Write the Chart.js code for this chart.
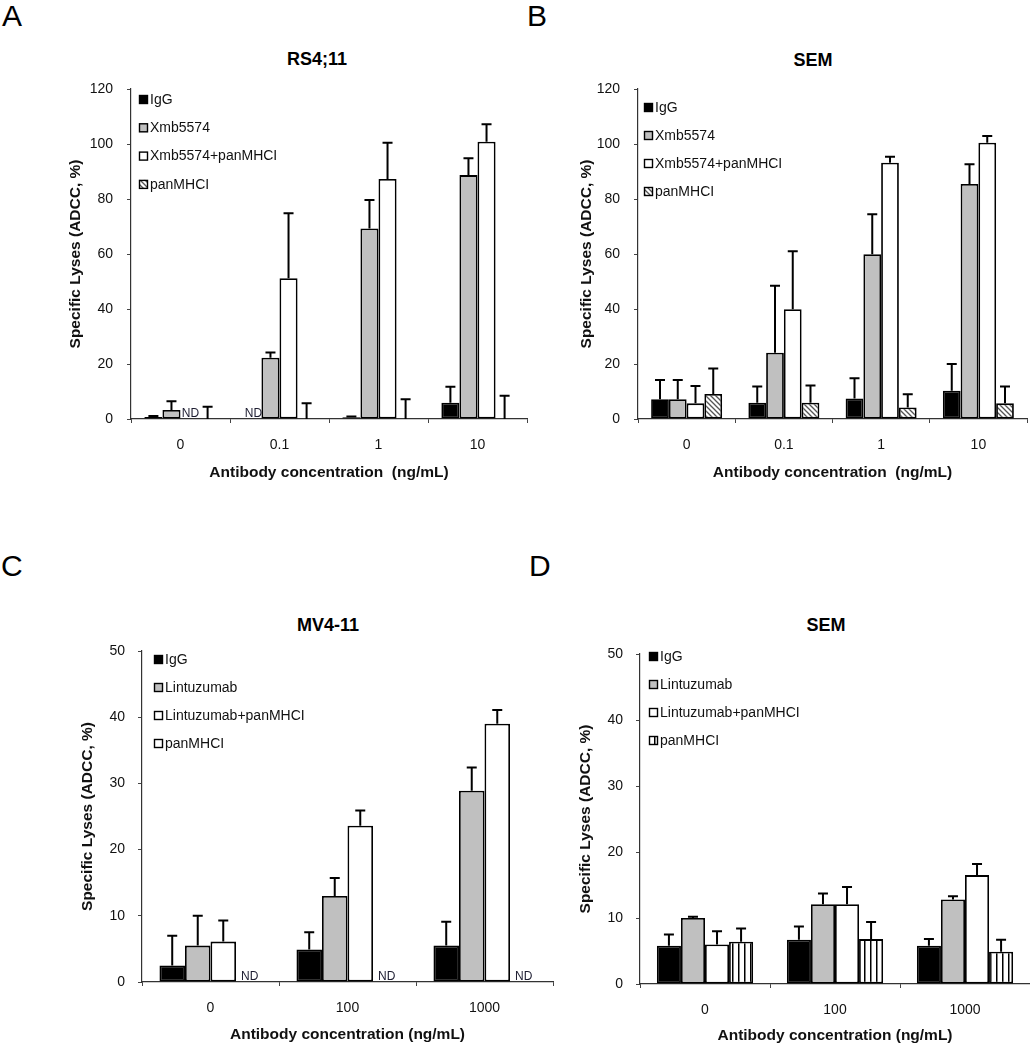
<!DOCTYPE html>
<html>
<head>
<meta charset="utf-8">
<script src="https://cdn.jsdelivr.net/npm/chart.js@4.4.1/dist/chart.umd.min.js"></script>
<style>
body{margin:0;background:#fff;width:1030px;height:1050px;position:relative;overflow:hidden;font-family:'Liberation Sans',Arial,sans-serif;color:#000;}
canvas{position:absolute;}
.lbl{position:absolute;font-size:30px;line-height:1;}
.ttl{position:absolute;font-size:18px;font-weight:bold;line-height:1;transform:translate(-50%,-50%);white-space:nowrap;}
</style>
</head>
<body>
<div class="lbl" style="left:2px;top:1px">A</div>
<div class="lbl" style="left:527px;top:1px">B</div>
<div class="lbl" style="left:1px;top:551px">C</div>
<div class="lbl" style="left:529px;top:551px">D</div>
<div class="ttl" style="left:317px;top:59px">RS4;11</div>
<div class="ttl" style="left:813px;top:60px">SEM</div>
<div class="ttl" style="left:328px;top:625px">MV4-11</div>
<div class="ttl" style="left:826px;top:625px">SEM</div>

<canvas id="chartA" width="530" height="500" style="left:0;top:0"></canvas>
<canvas id="chartB" width="510" height="500" style="left:520px;top:0"></canvas>
<canvas id="chartC" width="560" height="530" style="left:0;top:520px"></canvas>
<canvas id="chartD" width="490" height="530" style="left:540px;top:520px"></canvas>

<script>
// ─── Data (null = ND) ───
const labelsAB = ['IgG','Xmb5574','Xmb5574+panMHCI','panMHCI'];
const labelsCD = ['IgG','Lintuzumab','Lintuzumab+panMHCI','panMHCI'];

// A: RS4;11
const dosesA      = ['0','0.1','1','10'];
const rsIgG       = [0.7, null, 0.6, 5.9];
const rsIgGErr    = [0.4, 0,    0.3, 5.8];
const rsXmb       = [3.3, 22.3, 69.3, 88.7];
const rsXmbErr    = [3.2, 1.9,  10.3, 6.1];
const rsCombo     = [null, 51.2, 87.3, 100.8];
const rsComboErr  = [0,    23.6, 13.2, 6.4];
const rsPan       = [0,   0,   0,   0];
const rsPanErr    = [4.5, 5.7, 7.2, 8.5];

// B: SEM (Xmb5574)
const dosesB      = ['0','0.1','1','10'];
const semIgG      = [7.2, 5.9, 7.5, 10.3];
const semIgGErr   = [7.0, 5.9, 7.3, 9.7];
const semXmb      = [7.2, 24.1, 59.9, 85.5];
const semXmbErr   = [7.0, 24.4, 14.6, 7.1];
const semCombo    = [5.7, 39.9, 93.2, 100.5];
const semComboErr = [6.3, 21.1, 2.2, 2.4];
const semPan      = [9.1, 5.9, 4.2, 5.7];
const semPanErr   = [9.3, 6.3, 4.8, 6.1];

// C: MV4-11
const dosesC      = ['0','100','1000'];
const mvIgG       = [2.5, 4.9, 5.5];
const mvIgGErr    = [4.5, 2.6, 3.6];
const mvLin       = [5.5, 13.0, 28.9];
const mvLinErr    = [4.5, 2.7, 3.5];
const mvCombo     = [6.1, 23.6, 39.0];
const mvComboErr  = [3.2, 2.3, 2.1];
const mvPan       = [null, null, null];
const mvPanErr    = [0, 0, 0];

// D: SEM (Lintuzumab)
const dosesD      = ['0','100','1000'];
const sem2IgG     = [5.8, 6.7, 5.8];
const sem2IgGErr  = [1.7, 2.0, 1.0];
const sem2Lin     = [10.0, 12.1, 12.8];
const sem2LinErr  = [0.2, 1.6, 0.5];
const sem2Combo   = [6.0, 12.1, 16.5];
const sem2ComboErr= [2.0, 2.6, 1.7];
const sem2Pan     = [6.4, 6.8, 4.9];
const sem2PanErr  = [2.0, 2.6, 1.8];

// ─── Fills ───
const GRAY = '#c0c0c0';
function diagPattern(){
    const c=document.createElement('canvas'); c.width=c.height=5;
    const g=c.getContext('2d');
    g.fillStyle='#fff'; g.fillRect(0,0,5,5);
    g.strokeStyle='#555'; g.lineWidth=1.3;
    g.beginPath();
    g.moveTo(-1,-1); g.lineTo(6,6);
    g.moveTo(-1,4);  g.lineTo(1,6);
    g.moveTo(4,-1);  g.lineTo(6,1);
    g.stroke();
    return g.createPattern(c,'repeat');
}
function stripePattern(){
    const c=document.createElement('canvas'); c.width=6; c.height=4;
    const g=c.getContext('2d');
    g.fillStyle='#fff'; g.fillRect(0,0,6,4);
    g.fillStyle='#000'; g.fillRect(0,0,1.5,4);
    return g.createPattern(c,'repeat');
}

// ─── Plugins ───
const FONT = "'Liberation Sans', Arial, sans-serif";
Chart.defaults.font.family = FONT;
Chart.defaults.color = '#111';

const errorBars = {
    id:'errorBars',
    afterDatasetsDraw(chart){
        const {ctx} = chart, ys = chart.scales.y, xs = chart.scales.x;
        const n = chart.data.datasets.length;
        ctx.save();
        chart.data.datasets.forEach((ds,i)=>{
            const meta = chart.getDatasetMeta(i);
            ds.data.forEach((v,j)=>{
                const bar = meta.data[j];
                const catW = xs.width / chart.data.labels.length * ds.categoryPercentage;
                let cx = bar && isFinite(bar.x) ? bar.x : xs.getPixelForValue(j) + catW*((i+0.5)/n-0.5);
                if(v == null){
                    ctx.fillStyle='#1c1c30';
                    ctx.font='12px '+FONT;
                    ctx.textAlign='center'; ctx.textBaseline='bottom';
                    ctx.fillText('ND', cx+1, ys.getPixelForValue(0)+1);
                    return;
                }
                const e = ds.err[j];
                if(!e) return;
                const y0 = ys.getPixelForValue(v), y1 = ys.getPixelForValue(v+e);
                ctx.strokeStyle='#000'; ctx.lineWidth=2;
                ctx.beginPath();
                ctx.moveTo(cx,y0); ctx.lineTo(cx,y1);
                ctx.moveTo(cx-5,y1); ctx.lineTo(cx+5,y1);
                ctx.stroke();
            });
        });
        ctx.restore();
    }
};

const boxLegend = {
    id:'boxLegend',
    afterDraw(chart,args,o){
        const {ctx, chartArea:a} = chart;
        ctx.save();
        ctx.font='14px '+FONT; ctx.textBaseline='middle'; ctx.textAlign='left';
        chart.data.datasets.forEach((ds,i)=>{
            const x = a.left+o.dx, y = a.top+o.dy+i*o.gap;
            ctx.fillStyle = ds.backgroundColor;
            ctx.fillRect(x,y-4,9,9);
            ctx.strokeStyle='#000'; ctx.lineWidth=1.4;
            ctx.strokeRect(x+0.5,y-3.5,8,8);
            ctx.fillStyle='#111';
            ctx.fillText(ds.label, x+11, y+1);
        });
        ctx.restore();
    }
};

// ─── Panel builder ───
function makePanel(id, labels, names, series, errs, fills, o){
    const datasets = series.map((d,i)=>({
        label:names[i], data:d, err:errs[i], backgroundColor:fills[i],
        borderColor:'#000', borderWidth:1.8, borderSkipped:false,
        categoryPercentage:o.cat, barPercentage:1
    }));
    return new Chart(document.getElementById(id),{
        type:'bar',
        data:{labels, datasets},
        options:{
            responsive:false, animation:false,
            layout:{padding:{left:0,right:o.padR,top:o.padT,bottom:0}},
            plugins:{legend:{display:false},tooltip:{enabled:false},boxLegend:o.legend},
            scales:{
                x:{
                    grid:{drawOnChartArea:false,tickLength:4,color:'#444'},
                    border:{color:'#333',width:1.2},
                    ticks:{padding:14,color:'#111',font:{size:14}},
                    title:{display:true,text:o.xTitle,color:'#111',font:{size:15.5,weight:'bold'},padding:{top:0,bottom:o.xTitlePad}},
                    afterFit:s=>{s.height=o.xH;}
                },
                y:{
                    min:0, max:o.max,
                    grid:{drawOnChartArea:false,tickLength:4,color:'#444'},
                    border:{color:'#333',width:1.2},
                    ticks:{stepSize:o.step,padding:o.yTickPad,color:'#111',font:{size:14}},
                    title:{display:true,text:'Specific Lyses (ADCC, %)',color:'#111',font:{size:15.5,weight:'bold'},padding:{top:o.yTitlePad,bottom:0}},
                    afterFit:s=>{s.width=o.yW;}
                }
            }
        },
        plugins:[errorBars,boxLegend]
    });
}

const diag = diagPattern(), stripes = stripePattern();

makePanel('chartA', dosesA, labelsAB,
    [rsIgG, rsXmb, rsCombo, rsPan], [rsIgGErr, rsXmbErr, rsComboErr, rsPanErr],
    ['#000', GRAY, '#fff', diag],
    {cat:0.73, padR:3, padT:89, xH:81, xTitlePad:18, yW:131, yTitlePad:66, yTickPad:14, max:120, step:20,
     xTitle:'Antibody concentration  (ng/mL)', legend:{dx:8,dy:10,gap:28.3}});

makePanel('chartB', dosesB, labelsAB,
    [semIgG, semXmb, semCombo, semPan], [semIgGErr, semXmbErr, semComboErr, semPanErr],
    ['#000', GRAY, '#fff', diag],
    {cat:0.73, padR:3, padT:89, xH:81, xTitlePad:18, yW:118, yTitlePad:57, yTickPad:14, max:120, step:20,
     xTitle:'Antibody concentration  (ng/mL)', legend:{dx:6,dy:18,gap:28}});

makePanel('chartC', dosesC, labelsCD,
    [mvIgG, mvLin, mvCombo, mvPan], [mvIgGErr, mvLinErr, mvComboErr, mvPanErr],
    ['#000', GRAY, '#fff', '#fff'],
    {cat:0.745, padR:7, padT:131, xH:68, xTitlePad:6, yW:142, yTitlePad:78, yTickPad:13, max:50, step:10,
     xTitle:'Antibody concentration (ng/mL)', legend:{dx:12,dy:8,gap:28}});

makePanel('chartD', dosesD, labelsCD,
    [sem2IgG, sem2Lin, sem2Combo, sem2Pan], [sem2IgGErr, sem2LinErr, sem2ComboErr, sem2PanErr],
    ['#000', GRAY, '#fff', stripes],
    {cat:0.74, padR:0, padT:134, xH:66, xTitlePad:5, yW:100, yTitlePad:36, yTickPad:13, max:50, step:10,
     xTitle:'Antibody concentration (ng/mL)', legend:{dx:9,dy:2,gap:28}});
</script>
</body>
</html>
